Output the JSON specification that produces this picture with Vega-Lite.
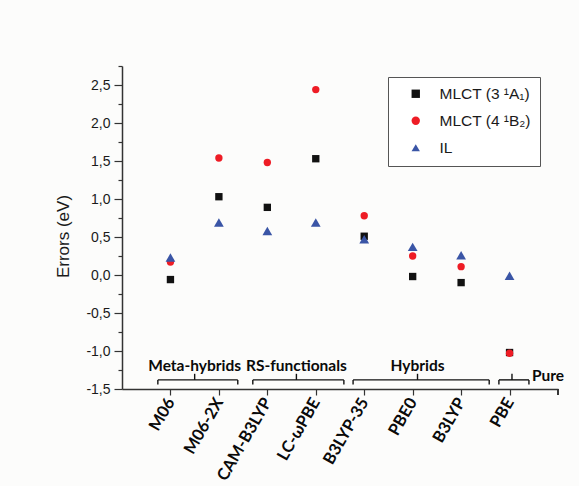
{
  "$schema": "https://vega.github.io/schema/vega-lite/v6.json",
  "autosize": "none",
  "width": 436,
  "height": 323,
  "padding": {"left": 122, "top": 66, "right": 21, "bottom": 97},
  "background": "#fcfcfb",
  "config": {
    "view": {"stroke": null},
    "axis": {"grid": false, "domainColor": "#333333", "domainWidth": 1.5, "tickColor": "#333333", "tickWidth": 1.2}
  },
  "datasets": {
    "errors": [
      {"method": "M06", "state": "MLCT (3 ¹A₁)", "error": -0.06},
      {"method": "M06-2X", "state": "MLCT (3 ¹A₁)", "error": 1.03},
      {"method": "CAM-B3LYP", "state": "MLCT (3 ¹A₁)", "error": 0.89},
      {"method": "LC-ωPBE", "state": "MLCT (3 ¹A₁)", "error": 1.53},
      {"method": "B3LYP-35", "state": "MLCT (3 ¹A₁)", "error": 0.51},
      {"method": "PBE0", "state": "MLCT (3 ¹A₁)", "error": -0.02},
      {"method": "B3LYP", "state": "MLCT (3 ¹A₁)", "error": -0.10},
      {"method": "PBE", "state": "MLCT (3 ¹A₁)", "error": -1.02},
      {"method": "M06", "state": "MLCT (4 ¹B₂)", "error": 0.17},
      {"method": "M06-2X", "state": "MLCT (4 ¹B₂)", "error": 1.54},
      {"method": "CAM-B3LYP", "state": "MLCT (4 ¹B₂)", "error": 1.48},
      {"method": "LC-ωPBE", "state": "MLCT (4 ¹B₂)", "error": 2.44},
      {"method": "B3LYP-35", "state": "MLCT (4 ¹B₂)", "error": 0.78},
      {"method": "PBE0", "state": "MLCT (4 ¹B₂)", "error": 0.25},
      {"method": "B3LYP", "state": "MLCT (4 ¹B₂)", "error": 0.11},
      {"method": "PBE", "state": "MLCT (4 ¹B₂)", "error": -1.03},
      {"method": "M06", "state": "IL", "error": 0.23},
      {"method": "M06-2X", "state": "IL", "error": 0.69},
      {"method": "CAM-B3LYP", "state": "IL", "error": 0.58},
      {"method": "LC-ωPBE", "state": "IL", "error": 0.69},
      {"method": "B3LYP-35", "state": "IL", "error": 0.47},
      {"method": "PBE0", "state": "IL", "error": 0.37},
      {"method": "B3LYP", "state": "IL", "error": 0.26},
      {"method": "PBE", "state": "IL", "error": -0.01}
    ],
    "families": [
      {"family": "Meta-hybrids", "start": 0.74, "end": 2.39, "mid": 1.5},
      {"family": "RS-functionals", "start": 2.70, "end": 4.58, "mid": 3.6},
      {"family": "Hybrids", "start": 4.77, "end": 7.58, "mid": 6.1},
      {"family": "Pure", "start": 7.78, "end": 8.40, "mid": 8.05}
    ]
  },
  "resolve": {
    "scale": {"x": "independent"},
    "axis": {"x": "independent", "y": "independent"}
  },
  "layer": [
    {
      "data": {"name": "errors"},
      "mark": {"type": "point", "filled": true, "opacity": 1, "strokeWidth": 0},
      "encoding": {
        "x": {
          "field": "method",
          "type": "nominal",
          "sort": null,
          "scale": {"type": "point", "padding": 1},
          "axis": {
            "title": null,
            "labelAngle": -60,
            "labelAlign": "right",
            "labelBaseline": "middle",
            "labelFont": "Lato",
            "labelFontWeight": "bold",
            "labelFontSize": 16.5,
            "labelColor": "#0a0a0a",
            "labelPadding": 4,
            "tickSize": 6
          }
        },
        "y": {
          "field": "error",
          "type": "quantitative",
          "scale": {"domain": [-1.5, 2.75], "nice": false, "zero": false},
          "axis": {
            "values": [-1.5, -1, -0.5, 0, 0.5, 1, 1.5, 2, 2.5],
            "labelExpr": "replace(replace(format(datum.value, '.1f'), '.', ','), '\u2212', '-')",
            "labelFont": "Liberation Sans",
            "labelFontSize": 14,
            "labelColor": "#1a1a1a",
            "labelPadding": 4,
            "tickSize": 8,
            "title": "Errors (eV)",
            "titleFont": "Liberation Sans",
            "titleFontSize": 17,
            "titleFontWeight": "normal",
            "titleColor": "#1a1a1a",
            "titleX": -59,
            "titleY": 170,
            "titleAngle": -90,
            "titleAlign": "center",
            "titleBaseline": "middle"
          }
        },
        "color": {
          "field": "state",
          "type": "nominal",
          "scale": {
            "domain": ["MLCT (3 ¹A₁)", "MLCT (4 ¹B₂)", "IL"],
            "range": ["#111111", "#ee1c25", "#3a55a6"]
          },
          "legend": {
            "title": null,
            "orient": "none",
            "legendX": 266,
            "legendY": 11,
            "strokeColor": "#555555",
            "fillColor": "#ffffff",
            "padding": 9,
            "symbolOffset": 11,
            "labelOffset": 16,
            "labelFont": "Liberation Sans",
            "labelFontSize": 15.5,
            "labelColor": "#1a1a1a",
            "rowPadding": 10,
            "symbolSize": 70,
            "symbolStrokeWidth": 0
          }
        },
        "shape": {
          "field": "state",
          "type": "nominal",
          "scale": {
            "domain": ["MLCT (3 ¹A₁)", "MLCT (4 ¹B₂)", "IL"],
            "range": ["square", "circle", "triangle-up"]
          }
        },
        "size": {
          "condition": {"test": "datum.state === 'IL'", "value": 95},
          "value": 54
        }
      }
    },
    {
      "data": {"values": [{"v": 0}]},
      "mark": {"type": "rule", "opacity": 0},
      "encoding": {
        "y": {
          "field": "v",
          "type": "quantitative",
          "scale": {"domain": [-1.5, 2.75], "nice": false, "zero": false},
          "axis": {
            "orient": "left",
            "values": [-1.25, -0.75, -0.25, 0.25, 0.75, 1.25, 1.75, 2.25, 2.75],
            "labels": false,
            "domain": false,
            "tickSize": 4,
            "tickColor": "#333333",
            "title": null
          }
        }
      }
    },
    {
      "data": {"name": "families"},
      "encoding": {},
      "layer": [
        {
          "mark": {"type": "rule", "color": "#111111", "strokeWidth": 1.4},
          "encoding": {
            "x": {"field": "start", "type": "quantitative", "scale": {"domain": [0, 9], "nice": false}, "axis": null},
            "x2": {"field": "end"},
            "y": {"datum": -1.38, "type": "quantitative", "scale": {"domain": [-1.5, 2.75], "nice": false, "zero": false}, "axis": null}
          }
        },
        {
          "mark": {"type": "rule", "color": "#111111", "strokeWidth": 1.4},
          "encoding": {
            "x": {"field": "start", "type": "quantitative", "axis": null},
            "y": {"datum": -1.38, "type": "quantitative", "axis": null},
            "y2": {"datum": -1.44}
          }
        },
        {
          "mark": {"type": "rule", "color": "#111111", "strokeWidth": 1.4},
          "encoding": {
            "x": {"field": "end", "type": "quantitative", "axis": null},
            "y": {"datum": -1.38, "type": "quantitative", "axis": null},
            "y2": {"datum": -1.44}
          }
        },
        {
          "mark": {"type": "rule", "color": "#111111", "strokeWidth": 1.4},
          "encoding": {
            "x": {"field": "mid", "type": "quantitative", "axis": null},
            "y": {"datum": -1.38, "type": "quantitative", "axis": null},
            "y2": {"datum": -1.30}
          }
        },
        {
          "transform": [{"filter": "datum.family !== 'Pure'"}],
          "mark": {"type": "text", "font": "Lato", "fontWeight": "bold", "fontSize": 15.5, "color": "#0a0a0a", "align": "center", "baseline": "middle"},
          "encoding": {
            "x": {"field": "mid", "type": "quantitative", "axis": null},
            "y": {"datum": -1.20, "type": "quantitative", "axis": null},
            "text": {"field": "family"}
          }
        },
        {
          "transform": [{"filter": "datum.family === 'Pure'"}],
          "mark": {"type": "text", "font": "Lato", "fontWeight": "bold", "fontSize": 15.5, "color": "#0a0a0a", "align": "left", "baseline": "middle", "dx": 3},
          "encoding": {
            "x": {"field": "end", "type": "quantitative", "axis": null},
            "y": {"datum": -1.33, "type": "quantitative", "axis": null},
            "text": {"field": "family"}
          }
        },
        {
          "mark": {"type": "rule", "color": "#333333", "strokeWidth": 1.2, "clip": false},
          "encoding": {
            "x": {"datum": 9, "type": "quantitative", "axis": null},
            "y": {"datum": -1.5, "type": "quantitative", "axis": null},
            "y2": {"datum": -1.58}
          }
        }
      ]
    }
  ]
}
